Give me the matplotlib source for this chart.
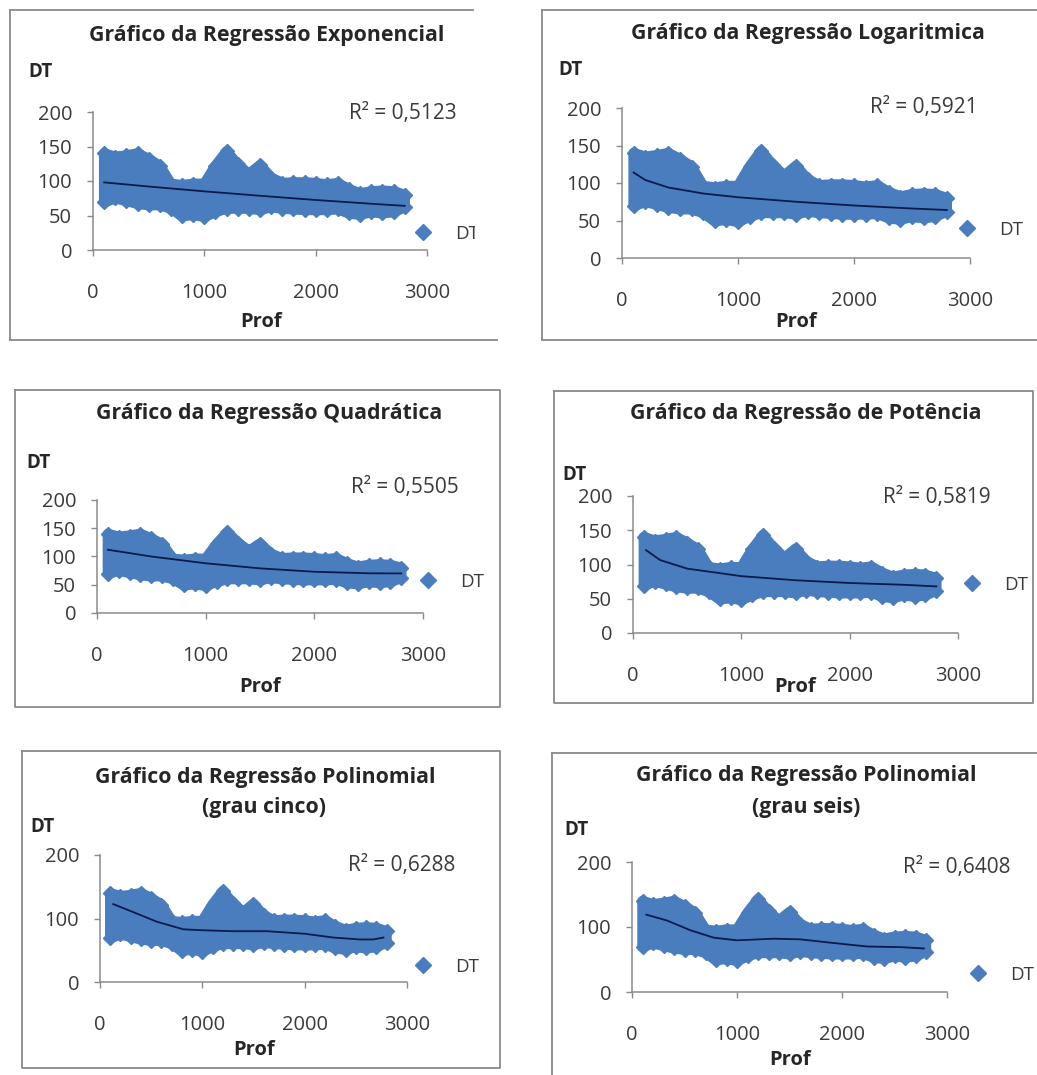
import matplotlib
matplotlib.use("Agg")
import matplotlib.pyplot as plt
from matplotlib.lines import Line2D
from matplotlib.patches import Rectangle

# ---------------- data ----------------
prof = [100, 200, 300, 400, 500, 600, 700, 800, 900, 1000,
        1100, 1200, 1300, 1400, 1500, 1600, 1700, 1800, 1900, 2000,
        2100, 2200, 2300, 2400, 2500, 2600, 2700, 2800]
dt_upper = [140, 135, 137, 140, 132, 122, 96, 94, 96, 96,
            122, 143, 124, 110, 123, 105, 97, 98, 98, 97,
            95, 97, 88, 82, 85, 86, 85, 80]
dt_lower = [69, 75, 71, 67, 65, 65, 60, 49, 51, 48,
            55, 60, 60, 60, 58, 62, 60, 59, 58, 58,
            58, 59, 53, 51, 55, 53, 55, 62]

trend_exp_prof = [100, 500, 1000, 1500, 2000, 2500, 2800]
trend_exp_dt = [98, 92, 85, 78.6, 72.5, 67, 64]

trend_log_prof = [100, 200, 400, 700, 1000, 1500, 2000, 2500, 2800]
trend_log_dt = [114, 104, 94, 86, 81, 75, 70, 66, 64]

trend_quad_prof = [100, 500, 1000, 1500, 2000, 2500, 2800]
trend_quad_dt = [112, 100, 88, 79, 73, 70.3, 70]

trend_pow_prof = [120, 250, 500, 1000, 1500, 2000, 2500, 2800]
trend_pow_dt = [121, 106.5, 94, 83, 77, 73, 70.4, 68]

trend_poly5_prof = [130, 326, 554, 814, 1000, 1300, 1630, 2000, 2280, 2540, 2670, 2770]
trend_poly5_dt = [122.6, 110, 95, 83, 81.5, 80, 80, 76, 70, 67, 67, 70]

trend_poly6_prof = [137, 333, 556, 778, 1000, 1350, 1600, 2000, 2240, 2560, 2780]
trend_poly6_dt = [119, 110, 95, 83.6, 79.5, 82, 81, 74, 70, 69, 67]

titles = [
    ["Gráfico da Regressão Exponencial"],
    ["Gráfico da Regressão Logaritmica"],
    ["Gráfico da Regressão Quadrática"],
    ["Gráfico da Regressão de Potência"],
    ["Gráfico da Regressão Polinomial", "(grau cinco)"],
    ["Gráfico da Regressão Polinomial", "(grau seis)"],
]
r2_labels = ["R² = 0,5123", "R² = 0,5921", "R² = 0,5505",
             "R² = 0,5819", "R² = 0,6288", "R² = 0,6408"]
yticks_full = [0, 50, 100, 150, 200]
yticks_coarse = [0, 100, 200]
xticks = [0, 1000, 2000, 3000]

trends = [
    (trend_exp_prof, trend_exp_dt),
    (trend_log_prof, trend_log_dt),
    (trend_quad_prof, trend_quad_dt),
    (trend_pow_prof, trend_pow_dt),
    (trend_poly5_prof, trend_poly5_dt),
    (trend_poly6_prof, trend_poly6_dt),
]

# ---------------- layout (pixels) ----------------
W, H = 1037, 1075
FONT = "Open Sans"
BLUE = "#4a7dbd"
NAVY = "#0b1a4a"
FRAME_GRAY = "#8a8a8a"
TXT = "#3a3a3a"
DARK = "#262626"

layout = [
    dict(ax=(93, 427, 250, 112), title=[(267, 35)], dt=(40, 72), r2=(403, 114),
         leg=(423, 234), prof=(261, 322), yt=yticks_full),
    dict(ax=(622, 970, 258, 108), title=[(808, 33)], dt=(570, 70), r2=(924, 108),
         leg=(967, 230), prof=(796, 322), yt=yticks_full),
    dict(ax=(97, 423, 613, 500), title=[(269, 413)], dt=(39, 463), r2=(405, 488),
         leg=(428, 582), prof=(260, 687), yt=yticks_full),
    dict(ax=(633, 958, 633, 496), title=[(806, 413)], dt=(575, 475), r2=(937, 497),
         leg=(972, 585), prof=(795, 687), yt=yticks_full),
    dict(ax=(100, 407, 982, 855), title=[(265, 777), (264, 808)], dt=(43, 827), r2=(402, 865),
         leg=(423, 967), prof=(254, 1050), yt=yticks_coarse),
    dict(ax=(632, 947, 992, 862), title=[(806, 776), (806, 808)], dt=(577, 830), r2=(957, 867),
         leg=(978, 975), prof=(790, 1060), yt=yticks_coarse),
]


def fx(x):
    return x / W


def fy(y):
    return 1 - y / H


fig = plt.figure(figsize=(W / 100, H / 100), dpi=100)
fig.patch.set_facecolor("white")


def frame_line(xs, ys):
    fig.add_artist(Line2D([fx(v) for v in xs], [fy(v) for v in ys],
                          transform=fig.transFigure, color=FRAME_GRAY, lw=1.3, zorder=0))


# chart borders
frame_line([10, 10], [10, 340])
frame_line([10, 473], [10, 10])
frame_line([10, 497], [340, 340])
frame_line([542, 542], [10, 340])
frame_line([542, 1037], [10, 10])
frame_line([542, 1037], [340, 340])
for (l, t, r, b) in [(15, 390, 500, 707), (554, 391, 1033, 703), (22, 751, 500, 1068)]:
    frame_line([l, r, r, l, l], [t, t, b, b, t])
frame_line([552, 552], [753, 1075])
frame_line([552, 1037], [753, 753])

band_x = prof + prof[::-1]
band_y = dt_upper + dt_lower[::-1]

for i, lay in enumerate(layout):
    x0, x1, y0, y1 = lay["ax"]
    ax = fig.add_axes([fx(x0), fy(y0), (x1 - x0) / W, (y0 - y1) / H])
    ax.set_facecolor("none")
    ax.set_xlim(0, 3000)
    ax.set_ylim(0, 200)

    # dense cloud of DT readings: range band plus diamond markers on its edges
    ax.fill(band_x, band_y, facecolor=BLUE, edgecolor=BLUE, lw=7.5,
            joinstyle="round", zorder=2, clip_on=False)
    ax.plot(prof, dt_upper, "D", ms=7.2, color=BLUE, mec=BLUE, ls="none",
            label="DT", zorder=3, clip_on=False)
    ax.plot(prof, dt_lower, "D", ms=7.2, color=BLUE, mec=BLUE, ls="none",
            zorder=3, clip_on=False)
    tx, ty = trends[i]
    ax.plot(tx, ty, color=NAVY, lw=1.3, zorder=4)

    for s in ("top", "right"):
        ax.spines[s].set_visible(False)
    for s in ("left", "bottom"):
        ax.spines[s].set_color(FRAME_GRAY)
        ax.spines[s].set_linewidth(1.1)
    ax.set_xticks(xticks)
    ax.set_yticks(lay["yt"])
    ax.tick_params(axis="both", direction="out", length=4, width=1.0,
                   color=FRAME_GRAY, labelcolor=TXT, labelsize=14.5)
    ax.tick_params(axis="x", pad=20)
    ax.tick_params(axis="y", pad=11)
    for lab in ax.get_xticklabels() + ax.get_yticklabels():
        lab.set_fontfamily(FONT)

    leg = ax.legend(loc="center left",
                    bbox_to_anchor=(fx(lay["leg"][0] - 7.2), fy(lay["leg"][1])),
                    bbox_transform=fig.transFigure, frameon=False, borderpad=0,
                    borderaxespad=0, handlelength=0.8, handletextpad=1.3, numpoints=1,
                    markerscale=1.1, prop=dict(family=FONT, size=13.5))
    for t in leg.get_texts():
        t.set_color(TXT)

    for line, (cx, cy) in zip(titles[i], lay["title"]):
        fig.text(fx(cx), fy(cy), line, ha="center", va="center", family=FONT,
                 fontweight="bold", fontsize=15.3, color=DARK)
    fig.text(fx(lay["dt"][0]), fy(lay["dt"][1]), "DT", ha="center", va="center",
             family=FONT, fontweight="bold", fontsize=13.5, color=DARK)
    fig.text(fx(lay["prof"][0]), fy(lay["prof"][1]), "Prof", ha="center", va="center",
             family=FONT, fontweight="bold", fontsize=14.5, color=DARK)
    fig.text(fx(lay["r2"][0]), fy(lay["r2"][1]), r2_labels[i], ha="center", va="center",
             family=FONT, fontsize=15, color=TXT)

# the first chart is cropped on its right side
fig.add_artist(Rectangle((fx(475), fy(332)), (540 - 475) / W, 332 / H,
                         transform=fig.transFigure, facecolor="white", edgecolor="none",
                         zorder=10))

fig.savefig("out.png", dpi=100, facecolor="white")
